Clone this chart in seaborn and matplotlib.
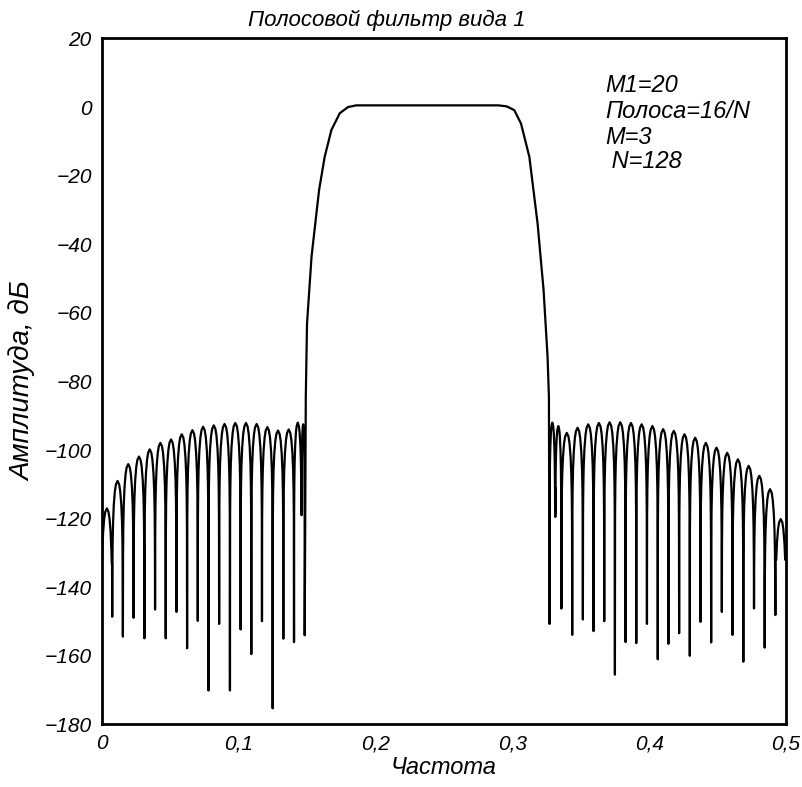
import numpy as np
import pandas as pd
import matplotlib
matplotlib.use("Agg")
import matplotlib.pyplot as plt
import seaborn as sns

# === Данные ===
# левая полоса задерживания: нули (границы лепестков), их глубина и уровни лепестков
start_db = -133.0
left_null_f = [0.0078, 0.0156, 0.0234, 0.0313, 0.0391, 0.0469, 0.0547, 0.0625, 0.0703, 0.0781,
               0.0859, 0.0938, 0.1016, 0.1094, 0.1172, 0.1250, 0.1328, 0.1406, 0.1461, 0.1484]
left_null_db = [-148.6, -154.4, -148.9, -154.9, -146.5, -154.9, -147.2, -157.8, -149.8, -170.1,
                -150.7, -170.1, -152.3, -159.5, -149.9, -175.3, -155.0, -156.0, -108.0, -154.0]
left_peak_db = [-117.0, -109.0, -104.1, -101.9, -99.8, -97.9, -96.9, -95.4, -94.2, -93.2,
                -92.8, -92.4, -92.1, -92.1, -92.4, -93.3, -94.3, -94.0, -92.0, -92.5]

# полоса пропускания
band_f = [0.1492, 0.1501, 0.1534, 0.1589, 0.1630, 0.1679, 0.1740, 0.1800, 0.1860, 0.2400,
          0.2900, 0.2960, 0.3015, 0.3064, 0.3125, 0.3185, 0.3229, 0.3258, 0.3268]
band_db = [-84.5, -63.1, -43.6, -24.2, -14.5, -6.7, -1.8, 0.0, 0.5, 0.5,
           0.5, 0.2, -0.9, -4.8, -14.5, -33.9, -53.4, -72.8, -84.5]

# правая полоса задерживания
end_db = -132.0
right_null_f = [0.3272, 0.3314, 0.3359, 0.3438, 0.3516, 0.3594, 0.3672, 0.3750, 0.3828, 0.3906,
                0.3984, 0.4063, 0.4141, 0.4219, 0.4297, 0.4375, 0.4453, 0.4531, 0.4609, 0.4688,
                0.4766, 0.4844, 0.4922]
right_null_db = [-150.7, -111.0, -146.2, -153.9, -149.4, -152.8, -149.9, -165.5, -156.0, -156.3,
                 -150.7, -161.0, -156.5, -153.4, -160.0, -150.1, -156.1, -147.2, -153.9, -161.7,
                 -146.2, -157.6, -148.1]
right_peak_db = [-92.0, -93.0, -95.0, -93.5, -92.5, -92.1, -91.9, -91.9, -92.1, -92.5,
                 -93.0, -93.9, -94.4, -95.4, -96.4, -97.9, -99.3, -100.8, -102.7, -104.6,
                 -107.5, -111.4, -120.1]

# форма одного лепестка (доля ширины -> спад от вершины, дБ)
lobe_u = [0.015, 0.04, 0.08, 0.15, 0.25, 0.35, 0.5, 0.65, 0.75, 0.85, 0.92, 0.96, 0.985]
lobe_drop = [-26.5, -18.0, -12.1, -6.9, -3.0, -1.0, 0.0, -1.0, -3.0, -6.9, -12.1, -18.0, -26.5]

x_ticks = [0, 0.1, 0.2, 0.3, 0.4, 0.5]
x_tick_labels = ["0", "0,1", "0,2", "0,3", "0,4", "0,5"]
y_ticks = [20, 0, -20, -40, -60, -80, -100, -120, -140, -160, -180]
y_tick_labels = ["20", "0", "\u221220", "\u221240", "\u221260", "\u221280", "\u2212100",
                 "\u2212120", "\u2212140", "\u2212160", "\u2212180"]
params = ["M1=20", "Полоса=16/N", "M=3", " N=128"]


def stopband(bounds_f, bounds_db, peaks):
    xs, ys = [bounds_f[0]], [bounds_db[0]]
    u = np.array(lobe_u)
    d = np.array(lobe_drop)
    for i, pk in enumerate(peaks):
        f0, f1 = bounds_f[i], bounds_f[i + 1]
        xs += list(f0 + u * (f1 - f0))
        ys += list(pk + d)
        xs.append(f1)
        ys.append(bounds_db[i + 1])
    return xs, ys


lx, ly = stopband([0.0] + left_null_f, [start_db] + left_null_db, left_peak_db)
# первый лепесток начинается не с нуля, а с уровня start_db
ly = [max(v, start_db) if x < left_null_f[0] else v for x, v in zip(lx, ly)]
rx, ry = stopband(right_null_f + [0.5], right_null_db + [end_db], right_peak_db)
ry = [max(v, end_db) if x > right_null_f[-1] else v for x, v in zip(rx, ry)]

df = pd.DataFrame({"f": lx + band_f + rx, "db": ly + band_db + ry})

# === Рисунок ===
sns.set_style("white")
plt.rcParams["font.family"] = ["Liberation Sans", "DejaVu Sans"]
plt.rcParams["font.style"] = "italic"
plt.rcParams["text.color"] = "black"
plt.rcParams["axes.labelcolor"] = "black"
plt.rcParams["xtick.color"] = "black"
plt.rcParams["ytick.color"] = "black"

fig = plt.figure(figsize=(8.02, 7.87), dpi=100)
ax = fig.add_axes([0.1266, 0.0795, 0.8535, 0.8716])

sns.lineplot(data=df, x="f", y="db", sort=False, estimator=None,
             color="black", linewidth=1.6, ax=ax)

ax.set_xlim(0, 0.5)
ax.set_ylim(-180, 20)
ax.set_xticks(x_ticks)
ax.set_xticklabels(x_tick_labels, fontsize=15)
ax.set_yticks(y_ticks)
ax.set_yticklabels(y_tick_labels, fontsize=15)
ax.tick_params(direction="in", length=8, width=1.5, colors="black",
               top=False, right=False, pad=7)
for s in ax.spines.values():
    s.set_linewidth(2.0)
    s.set_color("black")

ax.set_xlabel("Частота", fontsize=17, labelpad=2, color="black")
ax.set_ylabel("Амплитуда, дБ", fontsize=20, labelpad=6, color="black")

fig.text(0.4825, 0.974, "Полосовой фильтр вида 1", fontsize=16,
         ha="center", va="center", color="black")

line_y = [0.932, 0.893, 0.856, 0.820]
for txt, yy in zip(params, line_y):
    ax.text(0.7356, yy, txt, transform=ax.transAxes, fontsize=17,
            ha="left", va="center", color="black")

fig.savefig("out.png", dpi=100)
